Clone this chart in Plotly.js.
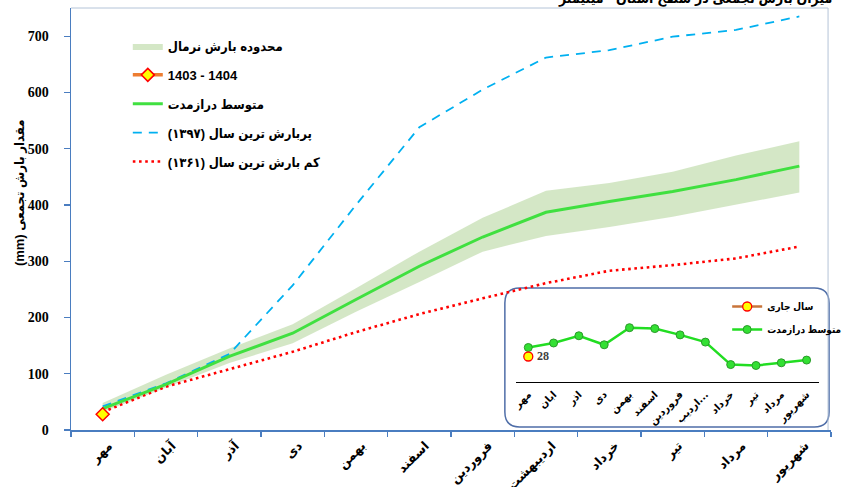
<!DOCTYPE html>
<html><head><meta charset="utf-8">
<script src="https://cdn.plot.ly/plotly-3.0.1.min.js"></script>
<style>html,body{margin:0;padding:0;background:#fff}#chart{width:851px;height:487px}</style>
</head><body><div id="chart"></div>
<script>
// ---- data ----
const months = ['مهر','آبان','آذر','دی','بهمن','اسفند','فروردین','اردیبهشت','خرداد','تیر','مرداد','شهریور'];
const insetMonths = ['مهر','ابان','اذر','دی','بهمن','اسفند','فروردین','اردیب...','خرداد','تیر','مرداد','شهریور'];
const normalLower = [32,76,119,154,210,263,317,345,361,379,400,422];
const normalUpper = [48,98,145,188,252,317,377,425,439,459,488,513];
const meanCum = [38,81,131,172,232,291,343,387,406,424,445,469];
const currentMonths = ['مهر'];
const currentCum = [28];
const wettest1397 = [42,83,135,257,400,538,605,662,675,699,711,735];
const driest1361 = [32,77,108,139,174,206,234,261,283,293,305,326];
const meanMonthly = [38,43,51,41,60,59,52,44,19,18,21,24];
const currentInsetMonths = ['مهر'];
const currentMonthly = [28];
const yTicks = [0,100,200,300,400,500,600,700];

const names = {
  band: 'محدوده بارش نرمال',
  current: '1403 - 1404',
  mean: 'متوسط درازمدت',
  wet: 'پربارش ترین سال (۱۳۹۷)',
  dry: 'کم بارش ترین سال (۱۳۶۱)',
  curInset: 'سال جاری',
  meanInset: 'متوسط درازمدت'
};

const axisBlue = '#4a7dc0';
const persianFont = "'Liberation Sans', 'DejaVu Sans Condensed', 'DejaVu Sans', sans-serif";
const serifFont = "'Liberation Serif', 'Times New Roman', 'DejaVu Serif', serif";

const traces = [
  {x: months, y: normalLower, type:'scatter', mode:'lines', line:{width:0, color:'rgba(0,0,0,0)'},
   showlegend:false, legendgroup:'band', hoverinfo:'skip'},
  {x: months, y: normalUpper, type:'scatter', mode:'lines', fill:'tonexty',
   fillcolor:'rgba(169,208,142,0.5)', line:{width:0, color:'rgba(169,208,142,0.5)'},
   name: names.band, legendgroup:'band', legendrank:1},
  {x: months, y: wettest1397, type:'scatter', mode:'lines',
   line:{color:'#00b0f0', width:1.8, dash:'9px,7px'}, name: names.wet, legendgroup:'wet', legendrank:4},
  {x: months, y: driest1361, type:'scatter', mode:'lines',
   line:{color:'#ff0000', width:2.6, dash:'2.6px,3.6px'}, name: names.dry, legendgroup:'dry', legendrank:5},
  {x: months, y: meanCum, type:'scatter', mode:'lines',
   line:{color:'#40e040', width:3}, name: names.mean, legendgroup:'mean', legendrank:3},
  {x: currentMonths, y: currentCum, type:'scatter', mode:'lines+markers',
   line:{color:'#ed7d31', width:3.5},
   marker:{symbol:'diamond', size:10, color:'#ffff00', line:{color:'#ff0000', width:1.5}},
   name: names.current, legendgroup:'cur', legendrank:2},
  // inset
  {x: insetMonths, y: meanMonthly, xaxis:'x2', yaxis:'y2', type:'scatter', mode:'lines+markers',
   line:{color:'#22dd22', width:2.5},
   marker:{symbol:'circle', size:8, color:'#33e033', line:{color:'#2a9a2a', width:1}},
   name: names.meanInset, legend:'legend2', legendgroup:'im', legendrank:2},
  {x: currentInsetMonths, y: currentMonthly, xaxis:'x2', yaxis:'y2', type:'scatter', mode:'lines+markers',
   line:{color:'#c8743a', width:2.5},
   marker:{symbol:'circle', size:9, color:'#ffff00', line:{color:'#ff0000', width:1.3}},
   name: names.curInset, legend:'legend2', legendgroup:'ic', legendrank:1}
];

// inset frame (paper coords)
const px = v => (v-71)/776, py = v => (430-v)/422;
const x0=px(514), x1=px(845), yt=py(288), yb=py(427), rx=15/776, ry=15/422;
const insetPath = `M ${x0+rx},${yb} L ${x1-rx},${yb} Q ${x1},${yb} ${x1},${yb+ry} L ${x1},${yt-ry} Q ${x1},${yt} ${x1-rx},${yt} L ${x0+rx},${yt} Q ${x0},${yt} ${x0},${yt-ry} L ${x0},${yb+ry} Q ${x0},${yb} ${x0+rx},${yb} Z`;

const layout = {
  width:851, height:487,
  margin:{l:71, r:4, t:8, b:57},
  paper_bgcolor:'#ffffff', plot_bgcolor:'#ffffff',
  showlegend:true,
  xaxis:{type:'category', range:[-0.5,11.5], tickson:'boundaries', ticks:'outside', ticklen:5,
    tickcolor:axisBlue, tickwidth:1.2, showline:true, linecolor:axisBlue, linewidth:1.5,
    showgrid:false, zeroline:false, tickangle:-45, ticklabelstandoff:2, ticklabelshift:6,
    tickfont:{family:"'DejaVu Sans'", size:12.5, weight:'bold', color:'#000'}},
  yaxis:{range:[0,750], tickvals:yTicks, ticktext:yTicks.map(String), ticks:'outside', ticklen:6,
    tickcolor:axisBlue, tickwidth:1.2, showline:true, linecolor:axisBlue, linewidth:1.5,
    showgrid:false, zeroline:false, ticklabelstandoff:12,
    tickfont:{family:serifFont, size:14, weight:'bold', color:'#000'}},
  xaxis2:{domain:[px(525), px(835)], anchor:'y2', type:'category', range:[-0.5,11.5],
    showline:true, linecolor:'#000', linewidth:1, ticks:'', showgrid:false, zeroline:false,
    tickangle:-45, ticklabelstandoff:2,
    tickfont:{family:"'DejaVu Sans'", size:10, weight:'bold', color:'#000'}},
  yaxis2:{domain:[py(381.7), py(295)], anchor:'x2', range:[0,96.3], visible:false},
  legend:{x:px(129), y:py(31), xanchor:'left', yanchor:'top', bgcolor:'rgba(0,0,0,0)',
    traceorder:'grouped', tracegroupgap:9,
    font:{family:persianFont, size:13, weight:'bold', color:'#000'}},
  legend2:{x:px(741), y:py(292), xanchor:'left', yanchor:'top', bgcolor:'rgba(0,0,0,0)',
    traceorder:'grouped', tracegroupgap:4,
    font:{family:persianFont, size:10, weight:'bold', color:'#000'}},
  shapes:[
    {type:'path', xref:'paper', yref:'paper', path:insetPath, fillcolor:'#ffffff',
     line:{color:'#4f6ea8', width:1.5}, layer:'below'},
    {type:'path', xref:'paper', yref:'paper', path:`M 0,1 L ${px(844)},1 L ${px(844)},0`,
     line:{color:'#b4c4d8', width:1}, layer:'below'}
  ],
  annotations:[
    {xref:'paper', yref:'paper', x:px(18), y:py(193), xanchor:'center', yanchor:'middle',
     text:'(mm) مقدار بارش تجمعی', textangle:-90,
     showarrow:false, font:{family:persianFont, size:13, weight:'bold', color:'#000'}},
    {xref:'paper', yref:'paper', x:px(708), y:py(9), yanchor:'bottom', xanchor:'center',
     text:'میزان بارش تجمعی در سطح استان - میلیمتر', showarrow:false,
     font:{family:persianFont, size:14, weight:'bold', color:'#000'}},
    {xref:'x2', yref:'y2', x:currentInsetMonths[0], y:currentMonthly[0], text:String(currentMonthly[0]),
     showarrow:false, xanchor:'left', xshift:7,
     font:{family:serifFont, size:12, weight:'bold', color:'#404040'}}
  ]
};

Plotly.newPlot('chart', traces, layout, {displayModeBar:false, staticPlot:true});
</script>
</body></html>
